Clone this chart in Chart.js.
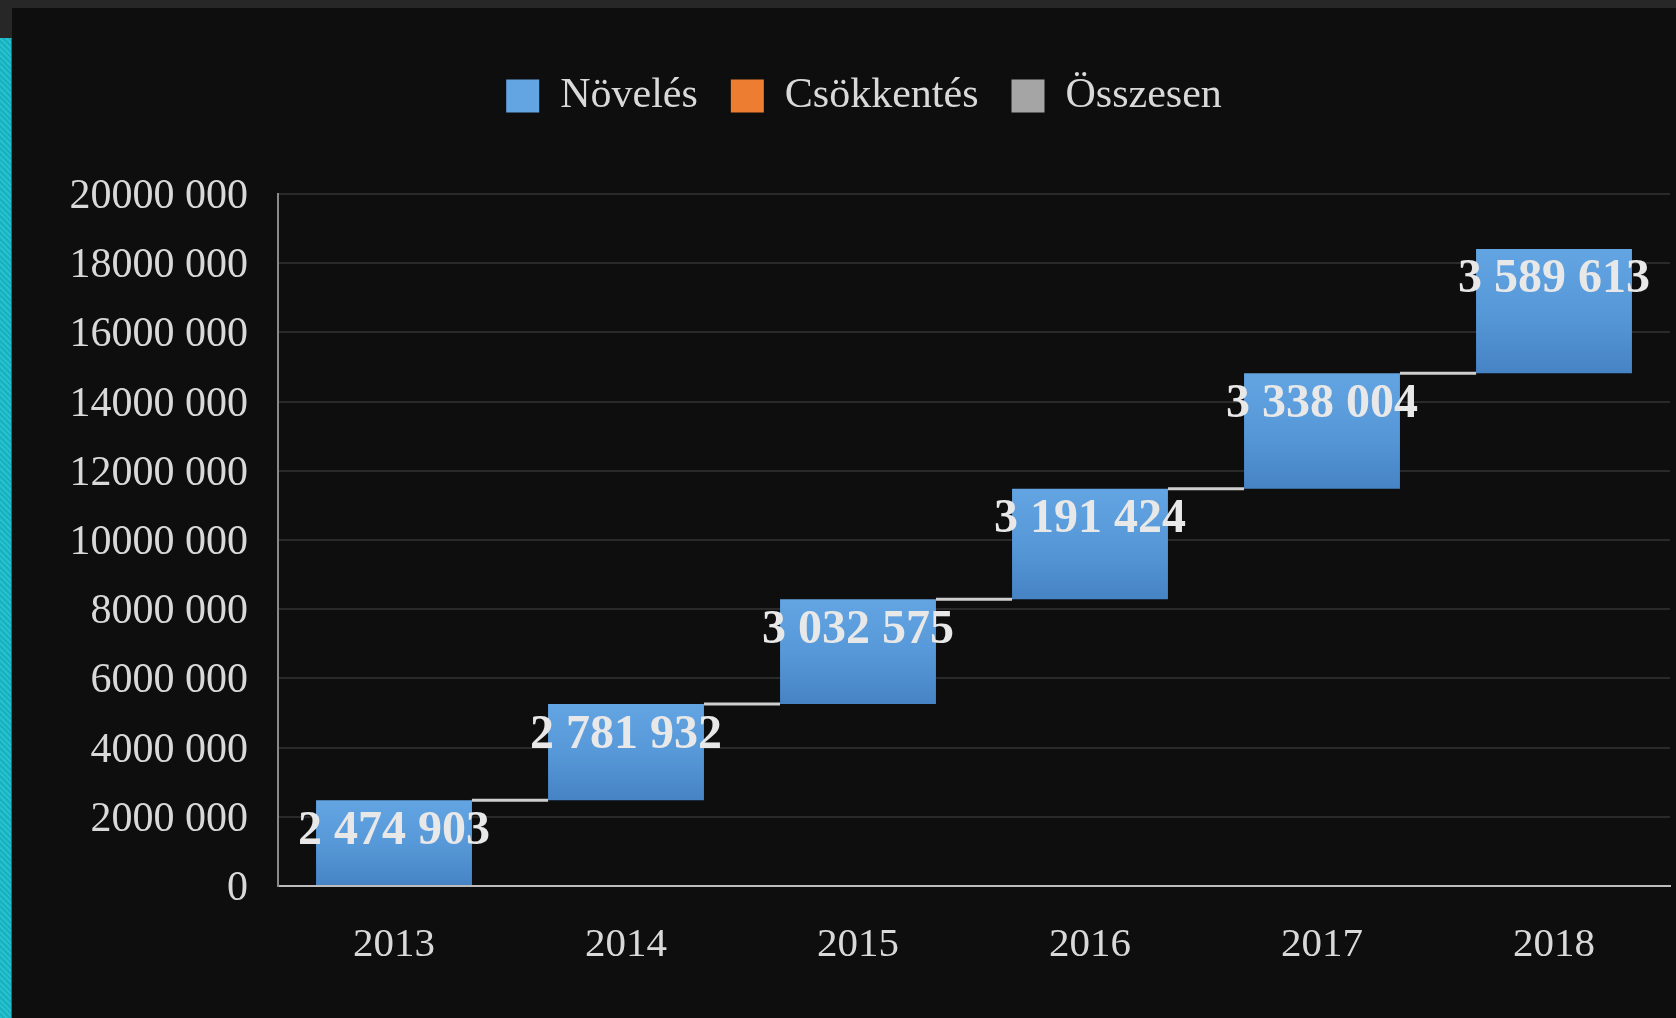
<!DOCTYPE html>
<html lang="hu">
<head>
    <meta charset="UTF-8">
    <title>Növekedés 2013-2018</title>
    <script src="https://cdn.jsdelivr.net/npm/chart.js"></script>
    <style>
        html, body {
            margin: 0;
            padding: 0;
            width: 1676px;
            height: 1018px;
            overflow: hidden;
            background: #272727;
        }
        .strip {
            position: absolute;
            left: 0;
            top: 38px;
            width: 11px;
            height: 980px;
            background: repeating-linear-gradient(45deg, #23c2d0 0 2px, #1cb0bf 2px 4px);
            border-right: 1px solid #117884;
        }
        .panel {
            position: absolute;
            left: 12px;
            top: 8px;
            width: 1664px;
            height: 1010px;
            background: #0e0e0e;
        }
    </style>
</head>
<body>
    <div class="strip"></div>
    <div class="panel">
        <canvas id="waterfall" width="1664" height="1010"></canvas>
    </div>
    <script>
        const years = ['2013', '2014', '2015', '2016', '2017', '2018'];
        const increases = [2474903, 2781932, 3032575, 3191424, 3338004, 3589613];
        const decreases = [null, null, null, null, null, null];
        const totals = [null, null, null, null, null, null];
        const yTicks = [0, 2000000, 4000000, 6000000, 8000000, 10000000, 12000000, 14000000, 16000000, 18000000, 20000000];

        const serif = "'Liberation Serif', 'Times New Roman', serif";

        // floating bars: each increase starts where the previous one ended
        let running = 0;
        const steps = increases.map(v => {
            const bar = [running, running + v];
            running += v;
            return bar;
        });

        const spaced = v => String(v).replace(/\B(?=(\d{3})+(?!\d))/g, ' ');
        const axisLabel = v => v === 0 ? '0' : Math.floor(v / 1000) + ' ' + String(v % 1000).padStart(3, '0');

        function blueFill(context) {
            const chart = context.chart;
            const raw = context.raw;
            if (!chart.chartArea || !Array.isArray(raw)) return '#5b9bd5';
            const y = chart.scales.y;
            const g = chart.ctx.createLinearGradient(0, y.getPixelForValue(raw[1]), 0, y.getPixelForValue(raw[0]));
            g.addColorStop(0, '#63a4e3');
            g.addColorStop(0.5, '#5799d8');
            g.addColorStop(1, '#4683c4');
            return g;
        }

        const stepDecor = {
            id: 'stepDecor',
            afterDatasetsDraw(chart) {
                const ctx = chart.ctx;
                const bars = chart.getDatasetMeta(0).data;
                ctx.save();
                // connector lines between the bars
                ctx.strokeStyle = '#cfcfcf';
                ctx.lineWidth = 3;
                for (let i = 0; i < bars.length - 1; i++) {
                    const a = bars[i], b = bars[i + 1];
                    ctx.beginPath();
                    ctx.moveTo(a.x + a.width / 2, a.y);
                    ctx.lineTo(b.x - b.width / 2, a.y);
                    ctx.stroke();
                }
                // value labels
                ctx.fillStyle = '#e8e8e8';
                ctx.font = 'bold 48px ' + serif;
                ctx.textAlign = 'center';
                ctx.textBaseline = 'middle';
                bars.forEach((bar, i) => {
                    ctx.fillText(spaced(increases[i]), bar.x, bar.y + 31);
                });
                ctx.restore();
            }
        };

        new Chart(document.getElementById('waterfall'), {
            type: 'bar',
            data: {
                labels: years,
                datasets: [
                    { label: 'Növelés', data: steps, backgroundColor: blueFill, grouped: false },
                    { label: 'Csökkentés', data: decreases, backgroundColor: '#ed7d31', grouped: false },
                    { label: 'Összesen', data: totals, backgroundColor: '#a5a5a5', grouped: false }
                ]
            },
            options: {
                responsive: false,
                animation: false,
                devicePixelRatio: 1,
                barPercentage: 0.672,
                categoryPercentage: 1,
                layout: { padding: { top: 34, left: 46, right: 6, bottom: 0 } },
                plugins: {
                    tooltip: { enabled: false },
                    legend: {
                        position: 'top',
                        labels: {
                            color: '#d9d9d9',
                            font: { family: serif, size: 42 },
                            boxWidth: 33,
                            boxHeight: 33,
                            padding: 33
                        }
                    },
                    // empty spacer between legend and plot
                    subtitle: {
                        display: true,
                        text: '',
                        weight: 500,
                        font: { size: 10 },
                        padding: { top: 55, bottom: 0 }
                    }
                },
                scales: {
                    x: {
                        grid: { display: false, drawTicks: false },
                        border: { color: '#bdbdbd', width: 2 },
                        ticks: {
                            color: '#d9d9d9',
                            font: { family: serif, size: 41 },
                            padding: 35
                        },
                        afterFit: s => { s.height = 132; }
                    },
                    y: {
                        min: 0,
                        max: 20000000,
                        afterBuildTicks: s => { s.ticks = yTicks.map(v => ({ value: v })); },
                        grid: { color: '#2a2a2a', lineWidth: 2, drawTicks: false },
                        border: { color: '#8a8a8a', width: 2 },
                        ticks: {
                            color: '#d9d9d9',
                            font: { family: serif, size: 42 },
                            padding: 30,
                            labelOffset: 3,
                            callback: v => axisLabel(v)
                        },
                        afterFit: s => { s.width = 220; }
                    }
                }
            },
            plugins: [stepDecor]
        });
    </script>
</body>
</html>
